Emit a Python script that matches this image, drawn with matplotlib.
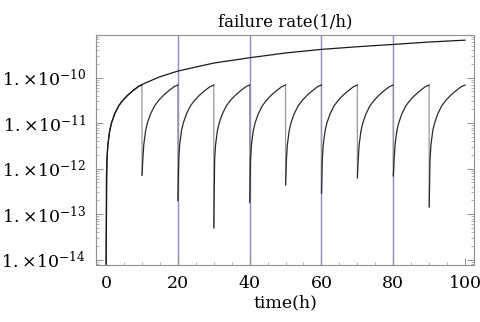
import numpy as np
import matplotlib
matplotlib.use("Agg")
import matplotlib.pyplot as plt
from matplotlib.ticker import FixedLocator, FuncFormatter, LogLocator, NullFormatter

# values
# failure rate without maintenance (upper curve)
upper_t = [0.02, 0.1, 0.25, 0.5, 1, 1.5, 2.4, 3.5, 4.7, 6, 7.5, 9, 10,
           15, 20, 30, 40, 50, 60, 70, 80, 90, 100]
upper_rate = [8e-15, 7e-13, 1.6e-12, 3.3e-12, 6.7e-12, 1.0e-11, 1.6e-11,
              2.4e-11, 3.2e-11, 4.1e-11, 5.2e-11, 6.4e-11, 7.1e-11,
              1.05e-10, 1.4e-10, 2.1e-10, 2.75e-10, 3.5e-10, 4.2e-10,
              4.8e-10, 5.4e-10, 6.1e-10, 6.7e-10]

# one maintenance cycle (offset from reset in h, rate), repeated every 10 h
tooth_offset = [0.25, 0.5, 1, 1.5, 2.4, 3.5, 4.7, 6, 7.5, 9, 10]
tooth_rate = [1.6e-12, 3.3e-12, 6.7e-12, 1.0e-11, 1.6e-11, 2.4e-11,
              3.2e-11, 4.1e-11, 5.2e-11, 6.4e-11, 6.9e-11]
reset_times = [0, 10, 20, 30, 40, 50, 60, 70, 80, 90]
reset_dip = [8e-15, 7.2e-13, 2e-13, 5e-14, 1.8e-13, 4.4e-13, 2.9e-13,
             6.3e-13, 6.9e-13, 1.45e-13]

grid_x = [20, 40, 60, 80]
decades = [1e-14, 1e-13, 1e-12, 1e-11, 1e-10]

plt.rcParams['font.family'] = ['DejaVu Serif']
plt.rcParams['mathtext.fontset'] = 'dejavuserif'

fig = plt.figure(figsize=(4.8, 3.22), dpi=100)
ax = fig.add_axes([0.2, 0.177, 0.7875, 0.715])

for gx in grid_x:
    ax.axvline(gx, color='#8a8acc', lw=1.0, zorder=1, snap=True)

# maintained component: one rising branch per cycle, joined by the resets
for i, (start, dip) in enumerate(zip(reset_times, reset_dip)):
    t = [start + 0.02] + [start + o for o in tooth_offset]
    r = [dip] + tooth_rate
    ax.plot(t, r, color='#2a2a2a', lw=0.9, zorder=3)
    if i > 0:
        # drop at the maintenance instant
        ax.plot([start, start + 0.02], [tooth_rate[-1], dip],
                color='#9a9a9a', lw=0.9, zorder=2)
ax.plot(upper_t, upper_rate, color='#1a1a1a', lw=0.9, zorder=3)

ax.set_yscale('log')
ax.set_xlim(-2.8, 102.5)
ax.set_ylim(7.6e-15, 8.8e-10)

ax.xaxis.set_major_locator(FixedLocator([0, 20, 40, 60, 80, 100]))
ax.xaxis.set_minor_locator(FixedLocator(np.arange(0, 101, 5)))
ax.yaxis.set_major_locator(FixedLocator(decades))
ax.yaxis.set_minor_locator(LogLocator(base=10, subs=np.arange(2, 10)))
ax.yaxis.set_minor_formatter(NullFormatter())
ax.yaxis.set_major_formatter(FuncFormatter(
    lambda v, p: r'$1.\!\times\!10^{%d}$' % int(round(np.log10(v)))))

ax.tick_params(which='both', direction='in', color='#909090',
               left=True, right=True, top=False, bottom=True,
               labelsize=12.5, pad=7)
ax.tick_params(which='major', length=5, width=0.7)
ax.tick_params(which='minor', length=2.5, width=0.5)
for s in ax.spines.values():
    s.set_color('#909090')
    s.set_linewidth(0.8)

ax.set_title('failure rate(1/h)', fontsize=12, pad=6)
ax.set_xlabel('time(h)', fontsize=12.5, labelpad=2)

fig.savefig('out.png', dpi=100)
